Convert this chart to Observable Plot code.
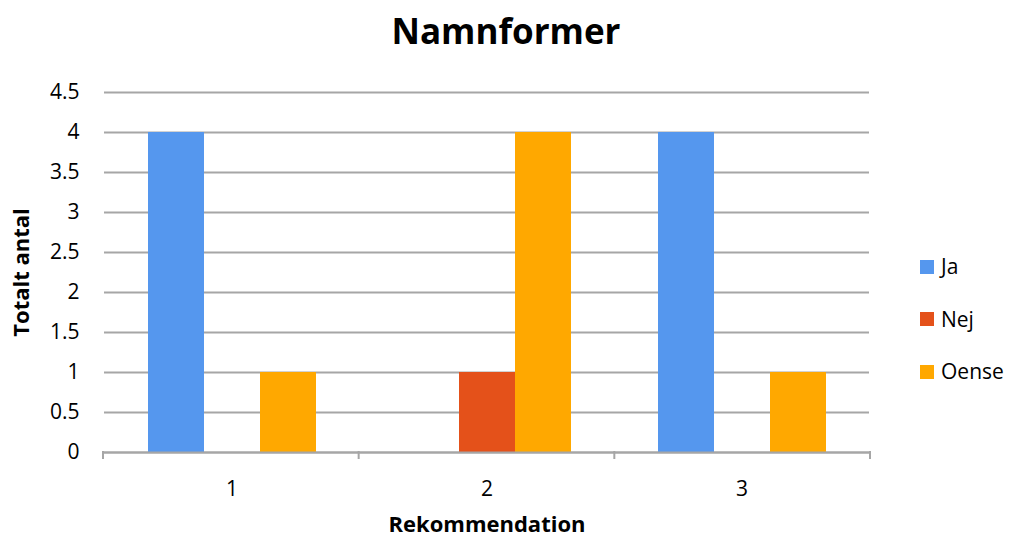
<!DOCTYPE html>
<html>
<head>
<meta charset="utf-8">
<script src="https://cdn.jsdelivr.net/npm/d3@7"></script>
<script src="https://cdn.jsdelivr.net/npm/@observablehq/plot@0.6"></script>
<style>
  html, body { margin: 0; padding: 0; background: #fff; }
  #wrap { position: relative; width: 1012px; height: 537px; font-family: "Open Sans", sans-serif; color: #000; }
  #title { position: absolute; left: 0; top: 13px; width: 1012px; text-align: center; font-weight: 700; font-size: 35px; line-height: 35px; }
  #chart { position: absolute; left: 0; top: 60px; }
  .lg { position: absolute; font-size: 21px; line-height: 21px; display: flex; align-items: center; }
  .lg span.sw { display: inline-block; width: 14px; height: 14px; margin-right: 7px; }
</style>
</head>
<body>
<div id="wrap">
  <div id="title">Namnformer</div>
  <div id="chart"></div>
</div>
<script>
const groups = ["1", "2", "3"];
const series = ["Ja", "Nej", "Oense"];
const ja = [4, 0, 4];
const nej = [0, 1, 0];
const oense = [1, 4, 1];
const yTicks = [0, 0.5, 1, 1.5, 2, 2.5, 3, 3.5, 4, 4.5];
const colors = ["#5597EE", "#E4511A", "#FFA800"];

const valuesBySeries = [ja, nej, oense];
const data = [];
groups.forEach((g, gi) => {
  series.forEach((s, si) => {
    data.push({group: g, series: s, value: valuesBySeries[si][gi]});
  });
});

const gridColor = "#A6A6A6";

const chart = Plot.plot({
  width: 1012,
  height: 477,
  marginLeft: 103,
  marginRight: 142,
  marginTop: 32,
  marginBottom: 85,
  style: {fontFamily: "Open Sans", fontSize: "21px", color: "#000", background: "#fff"},
  fx: {domain: groups, padding: 0, label: "Rekommendation"},
  x: {domain: series, paddingInner: 0, paddingOuter: 0.77, axis: null},
  y: {domain: [0, 4.5], label: "Totalt antal"},
  color: {domain: series, range: colors},
  marks: [
    Plot.gridY(yTicks, {stroke: gridColor, strokeOpacity: 1, strokeWidth: 2}),
    Plot.axisY(yTicks, {tickSize: 0, tickPadding: 25, tickFormat: d => String(d), label: "Totalt antal", labelArrow: "none", labelAnchor: "center", labelOffset: 91}),
    Plot.barY(data, {fx: "group", x: "series", y: "value", fill: "series"}),
    Plot.ruleY([0], {stroke: gridColor, strokeWidth: 2}),
    Plot.axisFx({anchor: "bottom", tickSize: 0, tickPadding: 29, label: "Rekommendation", labelArrow: "none", labelAnchor: "center", labelOffset: 79})
  ]
});

document.getElementById("chart").appendChild(chart);

// bold axis titles, no arrows
d3.select(chart).selectAll('[aria-label="y-axis label"] text, [aria-label="fx-axis label"] text')
  .attr("font-weight", "bold")
  .attr("font-size", "22px")
  .each(function() {
    const t = this.textContent.replace(/\s*[↑↓←→]\s*/g, "").trim();
    if (t !== this.textContent) this.textContent = t;
  });

// category boundary ticks below the x axis, from the fx and y scales
const fxs = chart.scale("fx");
const ys = chart.scale("y");
const fxBand = d3.scaleBand(fxs.domain, fxs.range)
  .paddingInner(fxs.paddingInner ?? 0).paddingOuter(fxs.paddingOuter ?? 0).align(fxs.align ?? 0.5);
const yLin = d3.scaleLinear(ys.domain, ys.range);
const edges = groups.map(g => fxBand(g)).concat([fxBand(groups[groups.length - 1]) + fxBand.bandwidth()]);
const y0 = yLin(0);
d3.select(chart).append("g").attr("aria-label", "category ticks")
  .selectAll("line").data(edges).join("line")
  .attr("x1", d => d).attr("x2", d => d)
  .attr("y1", y0 - 1).attr("y2", y0 + 7)
  .attr("stroke", gridColor).attr("stroke-width", 2);

// legend
const wrap = document.getElementById("wrap");
series.forEach((s, i) => {
  const el = document.createElement("div");
  el.className = "lg";
  el.style.left = "920px";
  el.style.top = (256 + i * 52.5) + "px";
  el.innerHTML = `<span class="sw" style="background:${colors[i]}"></span><span>${s}</span>`;
  wrap.appendChild(el);
});
</script>
</body>
</html>
